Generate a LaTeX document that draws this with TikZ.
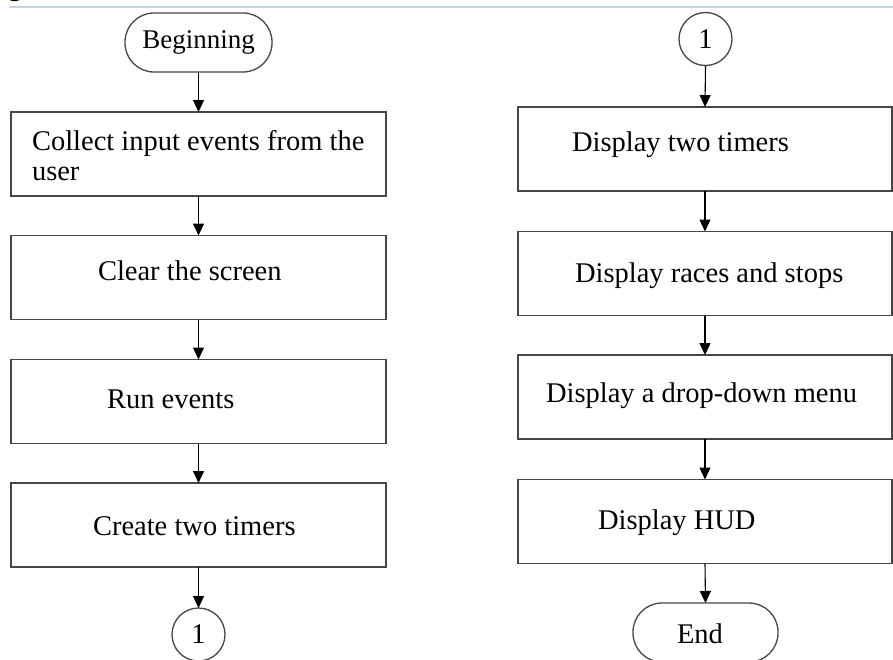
\documentclass[tikz,border=0pt]{standalone}
\usepackage{fontspec}
\setmainfont{Liberation Serif}
\usetikzlibrary{arrows.meta}
\definecolor{rulecol}{RGB}{200,210,228}
\definecolor{boxcol}{RGB}{70,70,70}
\tikzset{
  every node/.style={font=\fontsize{28.5}{34}\selectfont, inner sep=0pt, outer sep=0pt},
  procbox/.style={draw=boxcol, line width=1.3pt, rectangle, minimum height=84pt},
  lbox/.style={procbox, minimum width=375pt},
  rbox/.style={procbox, minimum width=374pt},
  termbox/.style={draw=boxcol, line width=1.3pt, rectangle, rounded corners=29pt, minimum height=59pt},
  conn/.style={draw=boxcol, line width=1.3pt, circle, minimum size=53pt},
  lbl/.style={anchor=base west},
  flow/.style={draw=black, line width=1.1pt, -{Triangle[length=12pt,width=11pt]}}
}
\begin{document}
\begin{tikzpicture}[x=1pt,y=-1pt]
\useasboundingbox (0,0) rectangle (893,659);
\node[lbl] (gcap) at (8,-5) {g};
\draw[rulecol, line width=2pt] (9,7) -- (893,7);
% left column
\node[termbox, minimum width=147pt] (begin) at (198.5,42.5) {};
\node (tbegin) at (198.5,42.5) {\fontsize{27}{32}\selectfont Beginning};
\node[lbox] (b1) at (198.5,154) {};
\node[lbl] (t1a) at (32,150) {Collect input events from the};
\node[lbl] (t1b) at (32,180) {user};
\node[lbox] (b2) at (198.5,277.5) {};
\node[lbl] (t2) at (98,280) {Clear the screen};
\node[lbox] (b3) at (198.5,401.5) {};
\node[lbl] (t3) at (107,408) {Run events};
\node[lbox] (b4) at (198.5,525) {};
\node[lbl] (t4) at (93,535) {Create two timers};
\node[conn] (c1) at (198.5,634.5) {};
\node (tc1) at (198.5,634.5) {1};
% right column
\node[conn] (c2) at (705.5,39) {};
\node (tc2) at (705.5,39) {1};
\node[rbox] (r1) at (705,149) {};
\node[lbl] (s1) at (572,151) {Display two timers};
\node[rbox] (r2) at (705,273.5) {};
\node[lbl] (s2) at (575,282) {Display races and stops};
\node[rbox] (r3) at (705,397) {};
\node[lbl] (s3) at (546,402) {Display a drop-down menu};
\node[rbox] (r4) at (705,521.5) {};
\node[lbl] (s4) at (598,529) {Display HUD};
\node[termbox, minimum width=145pt] (end) at (705.5,632.5) {};
\node[lbl] (tend) at (677,643) {End};
% connectors
\draw[flow] (begin.south) -- (b1.north);
\draw[flow] (b1.south) -- (b2.north);
\draw[flow] (b2.south) -- (b3.north);
\draw[flow] (b3.south) -- (b4.north);
\draw[flow] (b4.south) -- (c1.north);
\draw[flow] (c2.south) -- (r1.north);
\draw[flow] (r1.south) -- (r2.north);
\draw[flow] (r2.south) -- (r3.north);
\draw[flow] (r3.south) -- (r4.north);
\draw[flow] (r4.south) -- (end.north);
\end{tikzpicture}
\end{document}
